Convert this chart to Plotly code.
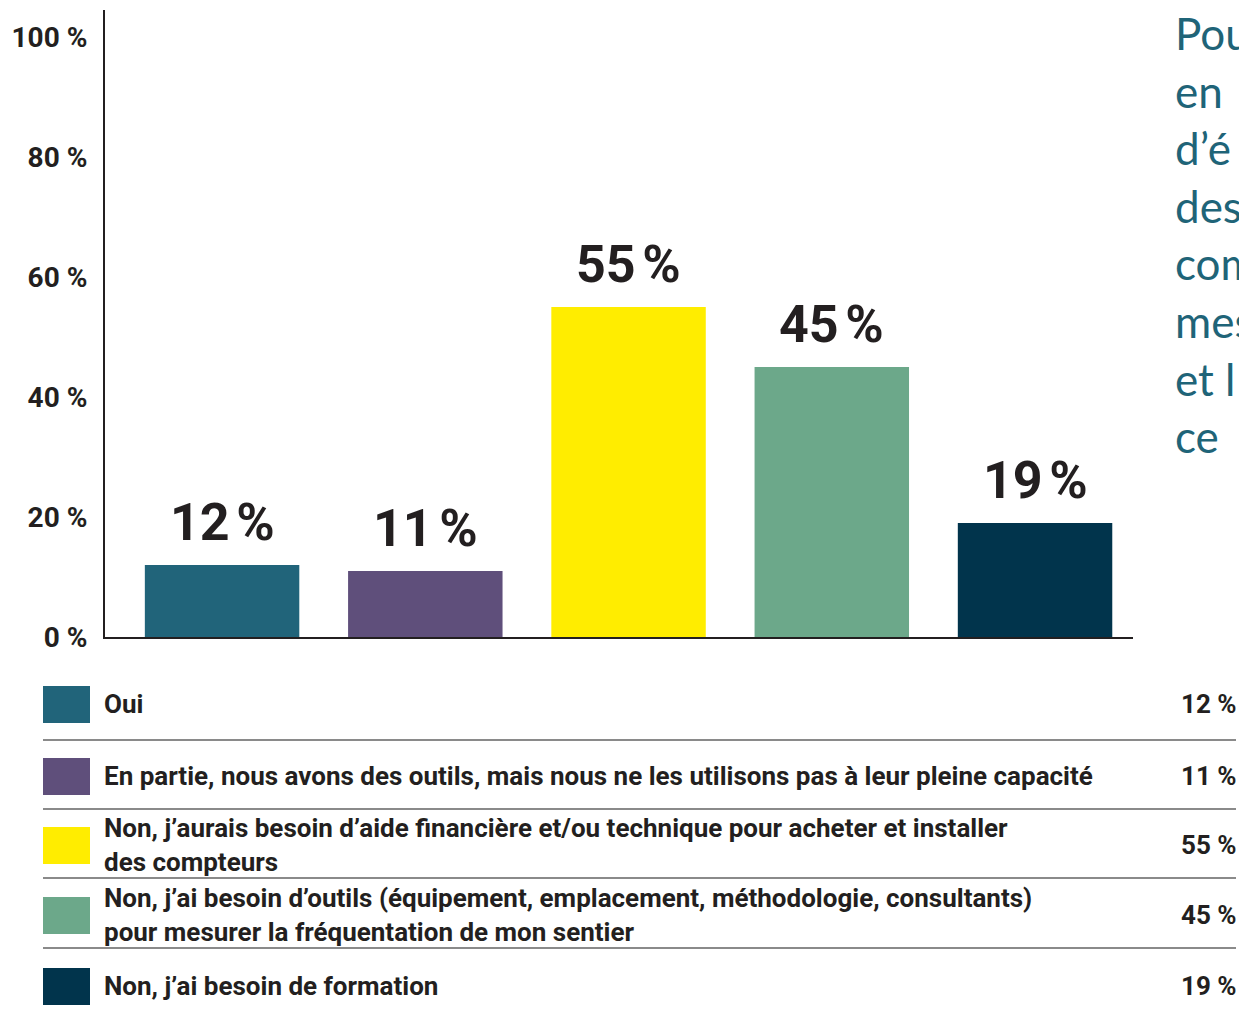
import plotly.graph_objects as go

# Data
categories = [
    "Oui",
    "En partie, nous avons des outils, mais nous ne les utilisons pas à leur pleine capacité",
    "Non, j’aurais besoin d’aide financière et/ou technique pour acheter et installer<br>des compteurs",
    "Non, j’ai besoin d’outils (équipement, emplacement, méthodologie, consultants)<br>pour mesurer la fréquentation de mon sentier",
    "Non, j’ai besoin de formation",
]
values = [12, 11, 55, 45, 19]
colors = ["#21647a", "#5f4f7b", "#ffed00", "#6ca88a", "#01344c"]
tick_vals = [0, 20, 40, 60, 80, 100]
tick_text = ["0 %", "20 %", "40 %", "60 %", "80 %", "100 %"]
side_title = ["Pour", "en", "d’é", "des", "com", "mes", "et l", "ce"]

W, H = 1239, 1017
L, R, T, B = 105, 1133, 10, 637
INK = "#231f20"
FONT = "Roboto"


def px(x):
    return (x - L) / (R - L)


def py(y):
    return (B - y) / (B - T)


fig = go.Figure()
fig.add_trace(go.Bar(
    x=list(range(len(values))),
    y=values,
    marker=dict(color=colors, line=dict(width=0)),
    width=0.76,
    hoverinfo="skip",
))

# value labels above bars
for i, v in enumerate(values):
    fig.add_annotation(
        x=i, y=v, xref="x", yref="y", text=f"{v}\u202f%", showarrow=False,
        yanchor="bottom", yshift=10,
        font=dict(family=FONT, size=52, color=INK, weight=700),
    )

# legend table below the chart
row_centers = [704, 776, 845, 915, 986]
seps = [740, 809, 878, 948]
for i, (lab, c, v) in enumerate(zip(categories, colors, values)):
    yc = row_centers[i]
    fig.add_shape(type="rect", xref="paper", yref="paper",
                  x0=px(43), x1=px(90), y0=py(yc - 18), y1=py(yc + 19),
                  fillcolor=c, line=dict(width=0))
    fig.add_annotation(x=px(102), y=py(yc), xref="paper", yref="paper",
                       text=lab, showarrow=False, xanchor="left", yanchor="middle",
                       align="left",
                       font=dict(family=FONT, size=26, color=INK, weight=700))
    fig.add_annotation(x=px(1239), y=py(yc), xref="paper", yref="paper",
                       text=f"{v} %", showarrow=False, xanchor="right", yanchor="middle",
                       font=dict(family=FONT, size=26, color=INK, weight=700))
for s in seps:
    fig.add_shape(type="line", xref="paper", yref="paper",
                  x0=px(43), x1=px(1236), y0=py(s), y1=py(s),
                  line=dict(color="#8a8a8a", width=2))

# clipped title text on the right edge
for j, line in enumerate(side_title):
    fig.add_annotation(x=px(1173), y=py(33 + j * 57.6), xref="paper", yref="paper",
                       text=line, showarrow=False, xanchor="left", yanchor="middle",
                       font=dict(family="Lato", size=44, color="#1f6478"))

fig.update_layout(
    width=W, height=H,
    margin=dict(l=L, r=W - R, t=T, b=H - B),
    plot_bgcolor="white", paper_bgcolor="white",
    showlegend=False,
    xaxis=dict(range=[-0.576, 4.482], showticklabels=False, showgrid=False,
               zeroline=False, showline=True, linecolor=INK, linewidth=2,
               fixedrange=True),
    yaxis=dict(range=[0, 104.5], tickvals=tick_vals, ticktext=tick_text,
               showgrid=False, zeroline=False, showline=True, linecolor=INK,
               linewidth=2, ticks="outside", ticklen=0, ticklabelstandoff=10,
               tickfont=dict(family=FONT, size=28, color=INK, weight=700),
               fixedrange=True),
)

# figure fills the whole window: drop the default page margin
fig.write_html(
    "out.html",
    config={"displayModeBar": False},
    post_script="document.body.style.margin='0';document.body.style.overflow='hidden';",
)
